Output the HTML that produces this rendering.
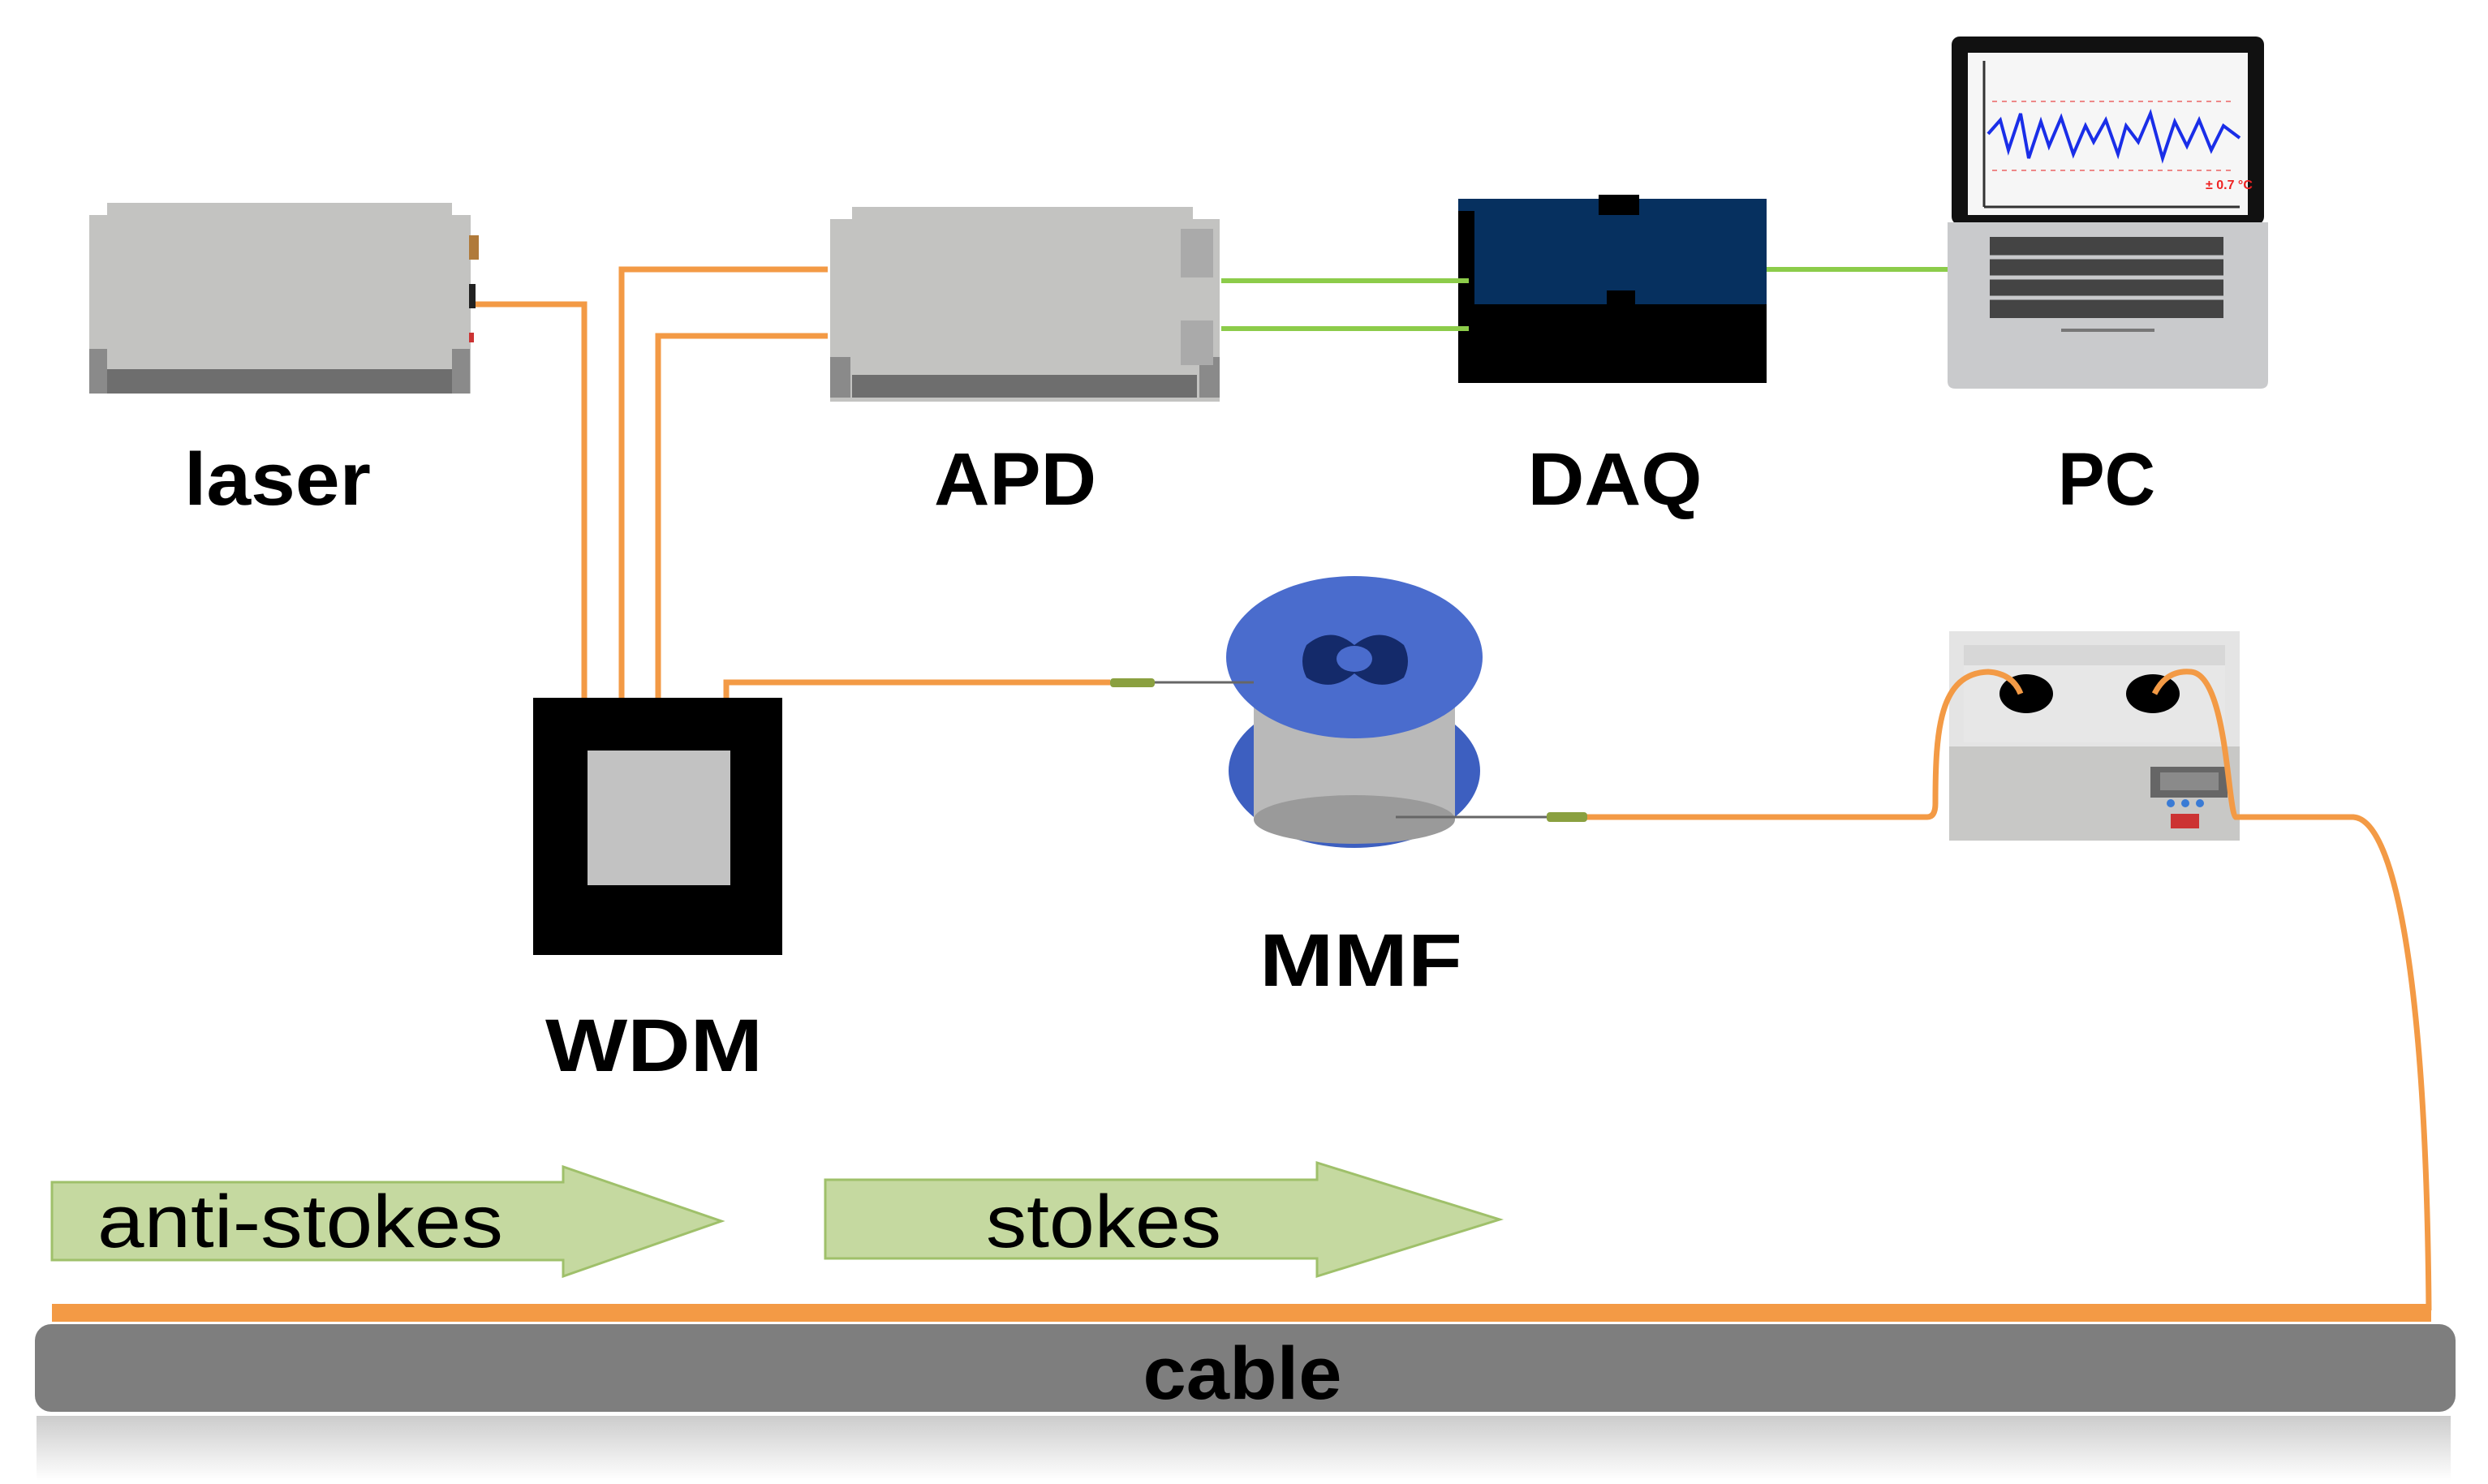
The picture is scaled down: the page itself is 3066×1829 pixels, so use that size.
<!DOCTYPE html>
<html><head><meta charset="utf-8"><style>
html,body{margin:0;padding:0;background:#fff;}
svg{display:block;}
text{font-family:"Liberation Sans",sans-serif;}
</style></head><body>
<svg width="3066" height="1829" viewBox="0 0 3066 1829" xmlns="http://www.w3.org/2000/svg">
<defs>
<linearGradient id="shadow" x1="0" y1="0" x2="0" y2="1"><stop offset="0" stop-color="#ccc"/><stop offset="1" stop-color="#fff"/></linearGradient>
</defs>
<!-- laser -->
<rect x="110" y="265" width="470" height="220" fill="#c3c3c1"/>
<rect x="132" y="250" width="425" height="30" fill="#c3c3c1"/>
<rect x="132" y="455" width="425" height="30" fill="#6e6e6e"/>
<rect x="110" y="430" width="22" height="55" fill="#8a8a8a"/>
<rect x="557" y="430" width="22" height="55" fill="#8a8a8a"/>
<rect x="578" y="290" width="12" height="30" fill="#b07a3a"/>
<rect x="578" y="350" width="8" height="30" fill="#222"/>
<rect x="578" y="410" width="6" height="12" fill="#c33"/>
<text x="342" y="622" font-size="92" font-weight="bold" text-anchor="middle" textLength="230" lengthAdjust="spacingAndGlyphs">laser</text>
<!-- APD -->
<rect x="1023" y="270" width="480" height="225" fill="#c3c3c1"/>
<rect x="1050" y="255" width="420" height="30" fill="#c3c3c1"/>
<rect x="1050" y="462" width="425" height="28" fill="#6e6e6e"/>
<rect x="1023" y="440" width="25" height="50" fill="#8a8a8a"/>
<rect x="1478" y="440" width="25" height="50" fill="#8a8a8a"/>
<rect x="1455" y="282" width="40" height="60" fill="#aaa"/>
<rect x="1455" y="395" width="40" height="55" fill="#aaa"/>
<text x="1251" y="622" font-size="92" font-weight="bold" text-anchor="middle" textLength="200" lengthAdjust="spacingAndGlyphs">APD</text>
<!-- DAQ -->
<rect x="1797" y="372" width="380" height="100" fill="#000"/>
<rect x="1797" y="245" width="380" height="130" fill="#06305f"/>
<rect x="1797" y="260" width="20" height="160" fill="#000"/>
<rect x="1970" y="240" width="50" height="25" fill="#000"/>
<rect x="1980" y="358" width="35" height="25" fill="#000"/>
<text x="1990" y="622" font-size="92" font-weight="bold" text-anchor="middle" textLength="215" lengthAdjust="spacingAndGlyphs">DAQ</text>
<!-- PC -->
<rect x="2405" y="45" width="385" height="232" rx="10" fill="#111"/>
<rect x="2425" y="65" width="345" height="200" fill="#f6f6f6"/>
<line x1="2445" y1="75" x2="2445" y2="255" stroke="#333" stroke-width="3"/>
<line x1="2445" y1="255" x2="2760" y2="255" stroke="#333" stroke-width="3"/>
<line x1="2455" y1="125" x2="2755" y2="125" stroke="#e88" stroke-width="2" stroke-dasharray="6 6"/>
<line x1="2455" y1="210" x2="2755" y2="210" stroke="#e88" stroke-width="2" stroke-dasharray="6 6"/>
<polyline fill="none" stroke="#1a2ee8" stroke-width="4" points="2450,165 2465,148 2475,185 2490,140 2500,195 2515,150 2525,180 2540,145 2555,190 2570,155 2580,175 2595,148 2610,190 2620,155 2635,175 2650,140 2665,195 2680,150 2695,180 2710,148 2725,185 2740,155 2760,170"/>
<text x="2718" y="233" font-size="16" fill="#e22" font-weight="bold">± 0.7 °C</text>
<path d="M2400 274 H2795 V470 Q2795 479 2785 479 H2410 Q2400 479 2400 470Z" fill="#c9cacc"/>
<rect x="2452" y="292" width="288" height="100" fill="#444"/>
<g stroke="#c9cacc" stroke-width="5">
<line x1="2452" y1="317" x2="2740" y2="317"/><line x1="2452" y1="342" x2="2740" y2="342"/><line x1="2452" y1="367" x2="2740" y2="367"/>
</g>
<rect x="2540" y="405" width="115" height="4" fill="#777"/>
<text x="2596" y="622" font-size="92" font-weight="bold" text-anchor="middle" textLength="120" lengthAdjust="spacingAndGlyphs">PC</text>
<!-- WDM -->
<rect x="657" y="860" width="307" height="317" fill="#000"/>
<rect x="724" y="925" width="176" height="166" fill="#c2c2c2"/>
<text x="806" y="1320" font-size="92" font-weight="bold" text-anchor="middle" textLength="268" lengthAdjust="spacingAndGlyphs">WDM</text>
<!-- MMF spool -->
<ellipse cx="1669" cy="950" rx="155" ry="95" fill="#3d5fc0"/>
<rect x="1545" y="860" width="248" height="150" fill="#b9b9b9"/>
<ellipse cx="1669" cy="1010" rx="124" ry="30" fill="#9a9a9a"/>
<ellipse cx="1669" cy="810" rx="158" ry="100" fill="#4a6ccd"/>
<path d="M1610 795 Q1640 770 1669 795 Q1700 770 1730 795 Q1740 815 1730 835 Q1700 855 1669 830 Q1640 855 1610 835 Q1600 815 1610 795Z" fill="#142a6a"/>
<ellipse cx="1669" cy="812" rx="22" ry="16" fill="#4a6ccd"/>
<text x="1677" y="1215" font-size="92" font-weight="bold" text-anchor="middle" textLength="250" lengthAdjust="spacingAndGlyphs">MMF</text>
<!-- heater -->
<rect x="2402" y="778" width="358" height="258" fill="#e4e4e4"/>
<rect x="2420" y="795" width="322" height="120" fill="#d7d7d7"/>
<rect x="2420" y="820" width="322" height="95" fill="#e7e7e7"/>
<rect x="2402" y="920" width="358" height="116" fill="#c8c8c6"/>
<ellipse cx="2497" cy="855" rx="33" ry="24" fill="#000"/>
<ellipse cx="2653" cy="855" rx="33" ry="24" fill="#000"/>
<rect x="2650" y="945" width="95" height="38" fill="#666"/>
<rect x="2662" y="952" width="72" height="22" fill="#8a8a8a"/>
<circle cx="2675" cy="990" r="5" fill="#3a7bd5"/><circle cx="2693" cy="990" r="5" fill="#3a7bd5"/><circle cx="2711" cy="990" r="5" fill="#3a7bd5"/>
<rect x="2675" y="1003" width="35" height="18" fill="#c33"/>
<!-- orange fibers -->
<g fill="none" stroke="#f39a45" stroke-width="7">
<polyline points="586,375 720,375 720,860"/>
<polyline points="1020,332 766,332 766,860"/>
<polyline points="1020,414 811,414 811,860"/>
<polyline points="895,860 895,841 1368,841"/>
<path d="M1955 1007 H2375 Q2385 1007 2385 990 C2385 900 2390 830 2450 828 Q2480 830 2490 855"/>
<path d="M2655 855 Q2670 825 2700 828 C2745 832 2745 1000 2755 1007 H2900 C2950 1010 2990 1200 2993 1615"/>
</g>
<!-- connectors -->
<rect x="1368" y="836" width="55" height="11" rx="4" fill="#8aa040"/>
<line x1="1423" y1="841" x2="1545" y2="841" stroke="#666" stroke-width="3"/>
<line x1="1720" y1="1007" x2="1906" y2="1007" stroke="#666" stroke-width="3"/>
<rect x="1906" y="1001" width="50" height="12" rx="4" fill="#8aa040"/>
<!-- green lines -->
<g stroke="#8ccc4a" stroke-width="6">
<line x1="1505" y1="346" x2="1810" y2="346"/>
<line x1="1505" y1="405" x2="1810" y2="405"/>
<line x1="2177" y1="332" x2="2400" y2="332"/>
</g>
<!-- arrows -->
<polygon points="64,1457 694,1457 694,1438 889,1505 694,1573 694,1553 64,1553" fill="#c5d9a0" stroke="#9fc06a" stroke-width="3"/>
<text x="370" y="1537" font-size="92" text-anchor="middle" textLength="500" lengthAdjust="spacingAndGlyphs">anti-stokes</text>
<polygon points="1017,1454 1623,1454 1623,1433 1848,1503 1623,1573 1623,1551 1017,1551" fill="#c5d9a0" stroke="#9fc06a" stroke-width="3"/>
<text x="1360" y="1537" font-size="92" text-anchor="middle" textLength="290" lengthAdjust="spacingAndGlyphs">stokes</text>
<!-- cable -->
<rect x="64" y="1607" width="2932" height="22" fill="#f39a45"/>
<rect x="45" y="1745" width="2975" height="80" fill="url(#shadow)"/>
<rect x="43" y="1632" width="2983" height="108" rx="20" fill="#7e7e7e"/>
<text x="1531" y="1724" font-size="92" font-weight="bold" text-anchor="middle" textLength="245" lengthAdjust="spacingAndGlyphs">cable</text>
</svg>
</body></html>
